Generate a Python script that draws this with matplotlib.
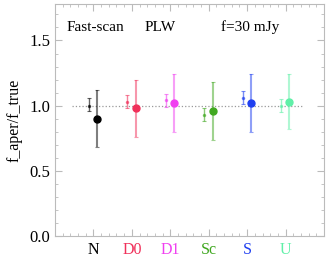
import numpy as np
import matplotlib.pyplot as plt
from matplotlib.ticker import MultipleLocator

labels = ['N', 'D0', 'D1', 'Sc', 'S', 'U']
colors = ['#000000', '#f0305a', '#f040f0', '#40a820', '#2040f0', '#60f0a8']

# big points (aperture)
big_val = [0.90, 0.98, 1.02, 0.96, 1.02, 1.03]
big_hi = [1.12, 1.20, 1.24, 1.18, 1.24, 1.24]
big_lo = [0.68, 0.76, 0.80, 0.74, 0.80, 0.82]

# small points
small_val = [1.00, 1.03, 1.04, 0.93, 1.06, 1.00]
small_hi = [1.06, 1.08, 1.09, 0.98, 1.11, 1.05]
small_lo = [0.96, 0.98, 0.99, 0.88, 1.01, 0.95]


def main():
    plt.rcParams['font.family'] = ['Liberation Serif', 'DejaVu Serif']
    fig = plt.figure(figsize=(3.27, 2.58), dpi=100)
    ax = fig.add_axes([55 / 327, 1 - 236 / 258, 269 / 327, 232 / 258])

    x = np.arange(1, len(labels) + 1)
    ax.plot([0.45, 6.45], [1.0, 1.0], ls=':', color='#999999', lw=0.9, zorder=1)

    for i in range(len(labels)):
        c = colors[i]
        sv = small_val[i]
        ax.errorbar(x[i] - 0.12, sv,
                    yerr=[[sv - small_lo[i]], [small_hi[i] - sv]],
                    fmt='o', ms=1.5, color=c, ecolor=c, elinewidth=1.0,
                    capsize=1.5, capthick=0.8, alpha=0.6, zorder=2)
        bv = big_val[i]
        ax.errorbar(x[i] + 0.1, bv,
                    yerr=[[bv - big_lo[i]], [big_hi[i] - bv]],
                    fmt='none', ecolor=c, elinewidth=1.5,
                    capsize=1.5, capthick=0.8, alpha=0.5, zorder=2)
        ax.plot(x[i] + 0.1, bv, 'o', ms=5, color=c, zorder=3)

    ax.set_xlim(0, 7)
    ax.set_ylim(0, 1.78)
    ax.set_xticks(x)
    ax.set_xticklabels([])
    ax.xaxis.set_minor_locator(MultipleLocator(0.2))
    ax.yaxis.set_major_locator(MultipleLocator(0.5))
    ax.yaxis.set_minor_locator(MultipleLocator(0.1))
    ax.tick_params(which='both', direction='in', top=True, right=True,
                   color='#bbbbbb', labelsize=12)
    ax.tick_params(which='major', length=5)
    ax.tick_params(which='minor', length=2)
    ax.set_yticks([0, 0.5, 1.0, 1.5])
    ax.set_yticklabels(['0.0', '0.5', '1.0', '1.5'])
    for s in ax.spines.values():
        s.set_color('#bbbbbb')

    for i, lab in enumerate(labels):
        ax.text(x[i], -0.11, lab, color=colors[i], ha='center', va='center',
                fontsize=11.5)

    ax.set_ylabel('f_aper/f_true', fontsize=11.5, labelpad=5)
    ax.text(0.3, 1.6, 'Fast-scan', fontsize=11, va='center')
    ax.text(2.33, 1.6, 'PLW', fontsize=11, va='center')
    ax.text(4.33, 1.6, 'f=30 mJy', fontsize=11, va='center')

    fig.savefig('out.png', dpi=100)


if __name__ == '__main__':
    main()
